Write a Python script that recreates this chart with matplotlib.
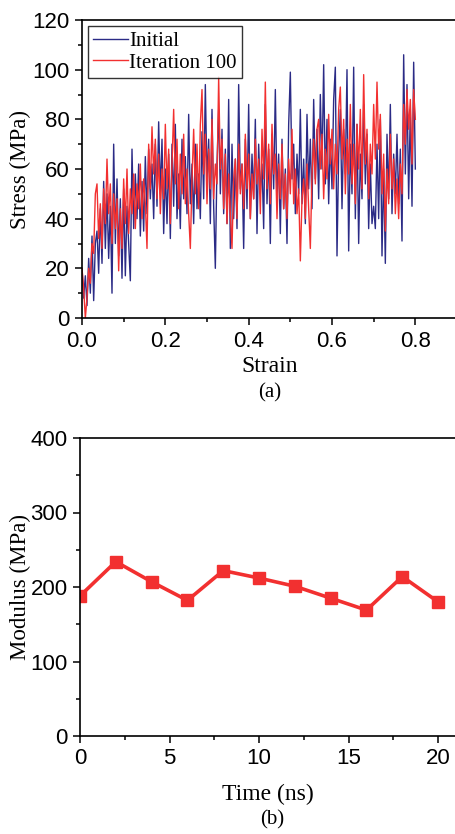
import numpy as np
import matplotlib
matplotlib.use("Agg")
import matplotlib.pyplot as plt
from matplotlib.ticker import MultipleLocator

# ---------------- data ----------------
strain_step = 0.004
stress_initial = [
    20, 8, 17, 5, 24, 10, 33, 7, 30, 35,
    18, 44, 22, 55, 28, 50, 24, 45, 10, 70,
    30, 56, 25, 48, 16, 52, 17, 45, 30, 15,
    68, 36, 58, 40, 62, 33, 55, 35, 65, 42,
    68, 48, 62, 40, 70, 45, 79, 50, 72, 34,
    60, 38, 66, 32, 70, 45, 78, 40, 58, 36,
    72, 48, 65, 42, 82, 46, 62, 38, 70, 44,
    58, 40, 75, 48, 94, 55, 72, 38, 84, 45,
    20, 62, 84, 50, 76, 42, 68, 38, 88, 28,
    70, 40, 64, 36, 94, 52, 62, 28, 72, 44,
    86, 40, 66, 48, 80, 34, 70, 50, 62, 36,
    86, 46, 68, 30, 74, 52, 92, 48, 66, 34,
    72, 44, 60, 30, 78, 99, 56, 70, 42, 66,
    50, 84, 46, 64, 38, 82, 52, 72, 44, 88,
    56, 76, 48, 90, 60, 102, 54, 80, 46, 72,
    52, 88, 101, 25, 66, 84, 44, 76, 58, 100,
    27, 70, 50, 101, 40, 78, 30, 66, 48, 86,
    54, 74, 36, 62, 38, 45, 36, 70, 40, 80,
    25, 60, 22, 74, 48, 86, 42, 66, 50, 74,
    46, 68, 31, 106, 58, 94, 48, 84, 45, 103,
    60,
]
stress_iter100 = [
    20, 12, 0, 8, 20, 14, 30, 26, 50, 54,
    32, 46, 28, 52, 38, 64, 42, 54, 30, 50,
    36, 48, 19, 44, 28, 56, 38, 60, 34, 52,
    42, 58, 36, 54, 44, 62, 40, 56, 46, 28,
    70, 52, 77, 58, 72, 48, 66, 42, 60, 48,
    78, 52, 68, 38, 62, 84, 54, 72, 44, 66,
    50, 74, 46, 60, 42, 28, 56, 76, 50, 70,
    44, 78, 92, 58, 74, 46, 68, 52, 80, 48,
    62, 54, 97, 60, 72, 44, 66, 38, 58, 42,
    28, 56, 64, 40, 70, 50, 62, 44, 74, 52,
    66, 40, 58, 48, 72, 54, 64, 42, 76, 56,
    95, 52, 70, 46, 78, 58, 66, 40, 62, 48,
    70, 44, 58, 40, 64, 50, 76, 46, 60, 42,
    52, 23, 48, 56, 40, 62, 44, 28, 58, 72,
    54, 76, 80, 60, 74, 48, 68, 56, 82, 62,
    76, 52, 70, 58, 84, 93, 64, 80, 50, 72,
    58, 86, 54, 70, 46, 78, 60, 84, 52, 98,
    62, 76, 48, 70, 58, 86, 64, 95, 68, 82,
    50, 66, 35, 60, 46, 74, 52, 64, 42, 56,
    40, 62, 50, 86, 70, 92, 76, 88, 62, 92,
    80,
]
series_labels = ["Initial", "Iteration 100"]

time_ns = [0, 2, 4, 6, 8, 10, 12, 14, 16, 18, 20]
modulus = [188, 234, 207, 182, 222, 212, 201, 185, 169, 214, 180]

# ---------------- style ----------------
serif = ["Liberation Serif", "DejaVu Serif"]
sans = ["Liberation Sans", "DejaVu Sans"]
blue = "#2b2b86"
red = "#f23030"

fig = plt.figure(figsize=(4.55, 8.34), dpi=100)

def style_axes(ax):
    ax.spines["right"].set_visible(False)
    for s in ["left", "bottom", "top"]:
        ax.spines[s].set_linewidth(1.2)
    ax.tick_params(which="both", direction="out", top=False, right=False,
                   labelsize=16, width=1.1, pad=4)
    ax.tick_params(which="major", length=5)
    ax.tick_params(which="minor", length=3)
    for lab in ax.get_xticklabels() + ax.get_yticklabels():
        lab.set_family(sans)

# ---- top panel ----
ax1 = fig.add_axes([82/455, 1-318/834, 375/455, 298/834])
strain = np.arange(len(stress_initial)) * strain_step
ax1.plot(strain, stress_initial, color=blue, lw=1.0, label=series_labels[0])
strain2 = np.arange(len(stress_iter100)) * strain_step
ax1.plot(strain2, stress_iter100, color=red, lw=1.0, label=series_labels[1])
ax1.set_xlim(0, 0.9)
ax1.set_ylim(0, 120)
ax1.xaxis.set_minor_locator(MultipleLocator(0.1))
ax1.yaxis.set_major_locator(MultipleLocator(20))
ax1.yaxis.set_minor_locator(MultipleLocator(10))
ax1.set_xticks([0, 0.2, 0.4, 0.6, 0.8])
ax1.set_xticklabels(["0.0", "0.2", "0.4", "0.6", "0.8"])
style_axes(ax1)
ax1.set_xlabel("Strain", family=serif, fontsize=17)
ax1.set_ylabel("Stress (MPa)", family=serif, fontsize=16.5)
ax1.xaxis.set_label_coords(0.5, -0.128)
ax1.yaxis.set_label_coords(-0.136, 0.5)
leg = ax1.legend(loc="upper left", prop={"family": serif, "size": 15},
                 frameon=True, fancybox=False, edgecolor="black",
                 handlelength=1.65, handletextpad=0.05, borderpad=0.25,
                 labelspacing=0.1, borderaxespad=0.3)
leg.get_frame().set_linewidth(1.0)
fig.text(270/455, 1-393/834, "(a)", family=serif, fontsize=15,
         ha="center", va="center")

# ---- bottom panel ----
ax2 = fig.add_axes([80/455, 1-736/834, 376/455, 298/834])
ax2.plot(time_ns, modulus, color=red, lw=2.6, marker="s", markersize=8,
         markeredgecolor=red, markerfacecolor=red)
ax2.set_xlim(0, 21)
ax2.set_ylim(0, 400)
ax2.xaxis.set_major_locator(MultipleLocator(5))
ax2.xaxis.set_minor_locator(MultipleLocator(2.5))
ax2.yaxis.set_major_locator(MultipleLocator(100))
ax2.yaxis.set_minor_locator(MultipleLocator(50))
style_axes(ax2)
ax2.set_xlabel("Time (ns)", family=serif, fontsize=17)
ax2.set_ylabel("Modulus (MPa)", family=serif, fontsize=16.5)
ax2.xaxis.set_label_coords(0.5, -0.161)
ax2.yaxis.set_label_coords(-0.130, 0.5)
fig.text(272/455, 1-820/834, "(b)", family=serif, fontsize=15,
         ha="center", va="center")

fig.savefig("out.png", dpi=100)
